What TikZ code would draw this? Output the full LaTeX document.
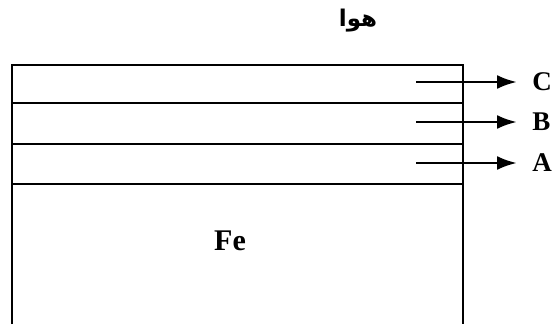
\documentclass[tikz,border=0pt]{standalone}
\usepackage{fontspec}
\setmainfont{Liberation Serif}
\newfontfamily\arabicfont[Script=Arabic]{DejaVu Sans}
\TeXXeTstate=1
\usetikzlibrary{arrows.meta}

\begin{document}
\begin{tikzpicture}[x=1pt, y=-1pt, line width=2.8pt]
	% Stili per strati, frecce ed etichette
	\tikzset{bordo/.style={draw, line cap=butt},
		freccia/.style={-{Latex[length=20pt, width=14pt]}},
		etichetta/.style={font=\fontsize{27}{32}\selectfont\bfseries, anchor=west, inner xsep=14pt, inner ysep=0pt}}
	\useasboundingbox (0,0) rectangle (556,324);
	
	% Blocco di ferro (aperto in basso)
	\draw[bordo] (12,324) -- (12,65) -- (463,65) -- (463,324);
	\draw[bordo] (12,103) -- (463,103);
	\draw[bordo] (12,144) -- (463,144);
	\draw[bordo] (12,184) -- (463,184);
	
	% Testi
	\node[font=\fontsize{30}{36}\selectfont\bfseries] (fe) at (230,241) {Fe};
	\node[font=\arabicfont\fontsize{23}{28}\selectfont\bfseries] (aria) at (358,21) {\beginR هوا\endR};
	
	% Frecce verso gli strati C, B, A
	\coordinate (c0) at (416,82);
	\coordinate (b0) at (416,122);
	\coordinate (a0) at (416,163);
	\node[etichetta] (C) at (517,82) {C};
	\node[etichetta] (B) at (517,122) {B};
	\node[etichetta] (A) at (517,163) {A};
	\draw[freccia] (c0) -- (C);
	\draw[freccia] (b0) -- (B);
	\draw[freccia] (a0) -- (A);
\end{tikzpicture}
\end{document}
